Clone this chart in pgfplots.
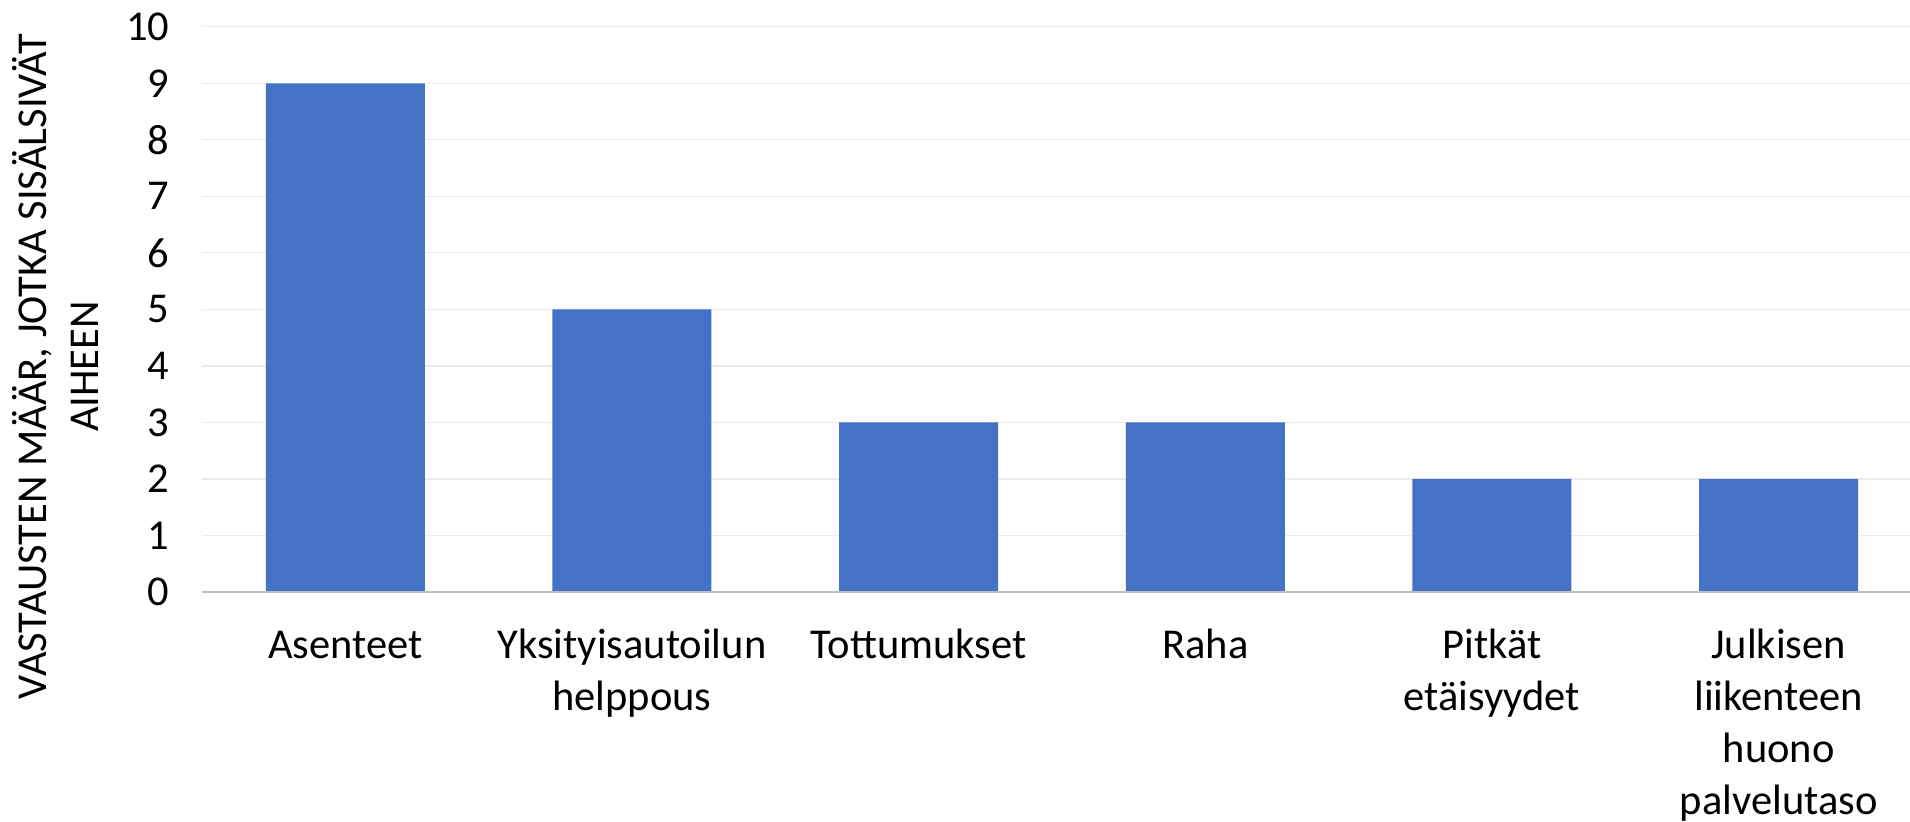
\documentclass[border=0pt]{standalone}
\usepackage{pgfplots}
\pgfplotsset{compat=1.18}
\usepackage{fontspec}
\setmainfont{Carlito}
\definecolor{barblue}{HTML}{4472C4}
\definecolor{gridgray}{HTML}{EBEBEB}
\definecolor{axisgray}{HTML}{BFBFBF}
\newcommand{\st}{\rule{0pt}{14.56pt}}
\begin{document}
\begin{tikzpicture}
\begin{axis}[
  name=ax,
  scale only axis,
  width=688pt, height=226.1pt,
  xmin=-0.5, xmax=5.5,
  ymin=0, ymax=10,
  ytick={0,1,...,10},
  xtick=data,
  xticklabels={\st Asenteet,{\st Yksityisautoilun\\helppous},\st Tottumukset,\st Raha,{\st Pitkät\\etäisyydet},{\st Julkisen\\liikenteen\\huono\\palvelutaso}},
  xticklabel style={align=center, yshift=-8.6pt, font=\fontsize{17}{20.8}\selectfont},
  yticklabel style={xshift=-9.5pt, font=\fontsize{17}{20.8}\selectfont},
  /pgf/number format/assume math mode=true,
  major tick length=0pt,
  axis line style={draw=none},
  ymajorgrids,
  grid style={gridgray, line width=0.5pt},
  ylabel={VASTAUSTEN MÄÄR, JOTKA SISÄLSIVÄT\\AIHEEN},
  ylabel style={align=center, font=\fontsize{17}{21}\selectfont, at={(axis description cs:-0.0597,0.3988)}, anchor=south, inner sep=0pt},
  clip=false,
]
\addplot[ybar, bar width=63.6pt, fill=barblue, draw=none] coordinates {(0,9) (1,5) (2,3) (3,3) (4,2) (5,2)};
\draw[axisgray, line width=1.1pt] (axis cs:-0.5,0) -- (axis cs:5.5,0);
\end{axis}
\pgfresetboundingbox
\path[use as bounding box] ([shift={(-80.8pt,-92pt)}]ax.south west) rectangle ([shift={(683.2pt,236.8pt)}]ax.south west);
\end{tikzpicture}
\end{document}
